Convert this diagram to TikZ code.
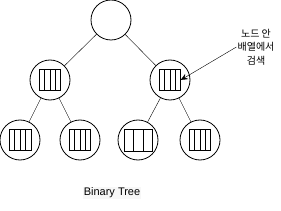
\documentclass[tikz,border=0pt]{standalone}
\usepackage{fontspec}
\setmainfont{Liberation Sans}
\newfontfamily\kofont{Noto Sans CJK KR}
\usetikzlibrary{positioning, arrows.meta, calc}

\tikzset{
  treenode/.style={draw, circle, thick, minimum size=40pt, inner sep=0pt},
  arraybox/.style={draw, minimum width=21pt, minimum height=21pt, inner sep=0pt},
}
% box with vertical cells: name, number of inner lines
\newcommand{\cellcols}[2]{%
  \foreach \k in {1,...,#2} {
    \draw ($(#1.south west)!{\k/(#2+1)}!(#1.south east)$) -- ($(#1.north west)!{\k/(#2+1)}!(#1.north east)$);
  }}

\begin{document}
\begin{tikzpicture}[x=1pt, y=-1pt, font=\fontsize{11pt}{13pt}\selectfont]
    \useasboundingbox (0,0) rectangle (281,211);
    % tree nodes
    \node[treenode] (root) at (111,20) {};
    \node[treenode] (l) at (50,80) {};
    \node[treenode] (r) at (170,80) {};
    \node[treenode] (ll) at (20,140) {};
    \node[treenode] (lr) at (80,140) {};
    \node[treenode] (rl) at (138,140) {};
    \node[treenode] (rr) at (200,140) {};
    % arrays inside
    \node[arraybox] (lbox) at (l) {};
    \node[arraybox] (rbox) at (r) {};
    \node[arraybox, minimum width=22pt] (llbox) at (ll) {};
    \node[arraybox] (lrbox) at (lr) {};
    \node[arraybox, minimum width=28pt, minimum height=22pt] (rlbox) at (rl) {};
    \node[arraybox] (rrbox) at (rr) {};
    \cellcols{lbox}{3}
    \cellcols{rbox}{3}
    \cellcols{llbox}{3}
    \cellcols{lrbox}{3}
    \cellcols{rlbox}{2}
    \cellcols{rrbox}{3}
    % edges
    \draw (root) -- (l);
    \draw (root) -- (r);
    \draw (l) -- (ll);
    \draw (l) -- (lr);
    \draw (r) -- (rl);
    \draw (r) -- (rr);
    % note
    \node[align=center, font=\kofont\fontsize{10pt}{13.5pt}\selectfont, inner sep=1pt] (note) at (256,47) {노드 안\\배열에서\\검색};
    \draw[-{Stealth[length=7pt, width=6pt]}] (note.west) -- (rbox.east);
    \node[fill=gray!6, inner sep=1pt] (title) at (112,193) {Binary Tree};
\end{tikzpicture}
\end{document}
